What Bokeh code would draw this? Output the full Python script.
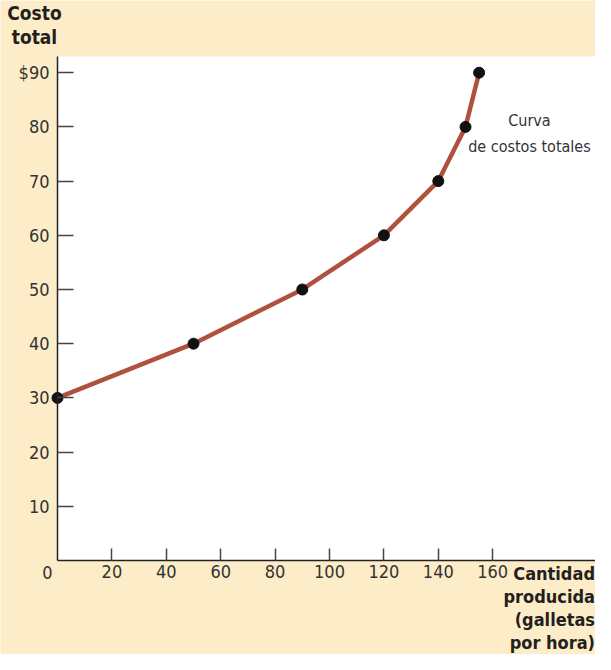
from bokeh.plotting import figure
from bokeh.models import Range1d, FixedTicker, Label, BoxAnnotation
from bokeh.embed import file_html
from bokeh.resources import INLINE

# Data
quantity = [0, 50, 90, 120, 140, 150, 155]
total_cost = [30, 40, 50, 60, 70, 80, 90]
x_ticks = [20, 40, 60, 80, 100, 120, 140, 160]
y_ticks = [10, 20, 30, 40, 50, 60, 70, 80, 90]
y_tick_labels = {90: "$90"}

BG = "#FDECC8"
LINE = "#B0503E"
TXT = "#333333"
FONT = "'Liberation Sans Narrow', 'DejaVu Sans Condensed', 'Open Sans', sans-serif"

X_MAX = 197.79
Y_MAX = 92.99

p = figure(width=595, height=654, output_backend="svg", toolbar_location=None,
           x_range=Range1d(-20.956, X_MAX), y_range=Range1d(-17.343, 103.32),
           min_border=0, title_location=None)
p.background_fill_color = BG
p.border_fill_color = BG
p.outline_line_color = None
p.grid.visible = False

p.add_layout(BoxAnnotation(left=0, bottom=0, top=Y_MAX, fill_color="white", fill_alpha=1,
                           line_color=None, level="underlay"))

p.line(quantity, total_cost, line_color=LINE, line_width=4.5)
p.scatter(quantity, total_cost, size=11, fill_color="#111111", line_color="#111111")

for ax, ticks, bounds in ((p.xaxis[0], x_ticks, (0, X_MAX)), (p.yaxis[0], y_ticks, (0, Y_MAX))):
    ax.ticker = FixedTicker(ticks=ticks)
    ax.fixed_location = 0
    ax.bounds = bounds
    ax.axis_line_color = "#222222"
    ax.axis_line_width = 1.5
    ax.major_tick_line_color = "#444444"
    ax.major_tick_line_width = 1.5
    ax.major_tick_out = 0
    ax.minor_tick_line_color = None
    ax.major_label_text_font = FONT
    ax.major_label_text_font_size = "18px"
    ax.major_label_text_color = TXT
p.xaxis.major_tick_in = 12
p.yaxis.major_tick_in = 16
p.yaxis.major_label_overrides = y_tick_labels
p.xaxis.major_label_standoff = 4
p.yaxis.major_label_standoff = 8

def lab(x, y, t, bold=False, align="center", size="18px"):
    p.add_layout(Label(x=x, y=y, text=t, text_align=align, text_baseline="middle",
                       text_font=FONT, text_font_size=size,
                       text_font_style="bold" if bold else "normal",
                       text_color="#231F20" if bold else TXT))

lab(-8.46, 101.1, "Costo", bold=True, size="19px")
lab(-8.46, 96.5, "total", bold=True, size="19px")
lab(-3.68, -2.21, "0")
lab(197.6, -2.40, "Cantidad", bold=True, align="right")
lab(197.6, -6.64, "producida", bold=True, align="right")
lab(197.6, -10.89, "(galletas", bold=True, align="right")
lab(197.6, -15.13, "por hora)", bold=True, align="right")
lab(173.5, 81.2, "Curva", size="16px")
lab(173.5, 76.4, "de costos totales", size="16px")

open("out.html", "w").write(file_html(p, INLINE))
